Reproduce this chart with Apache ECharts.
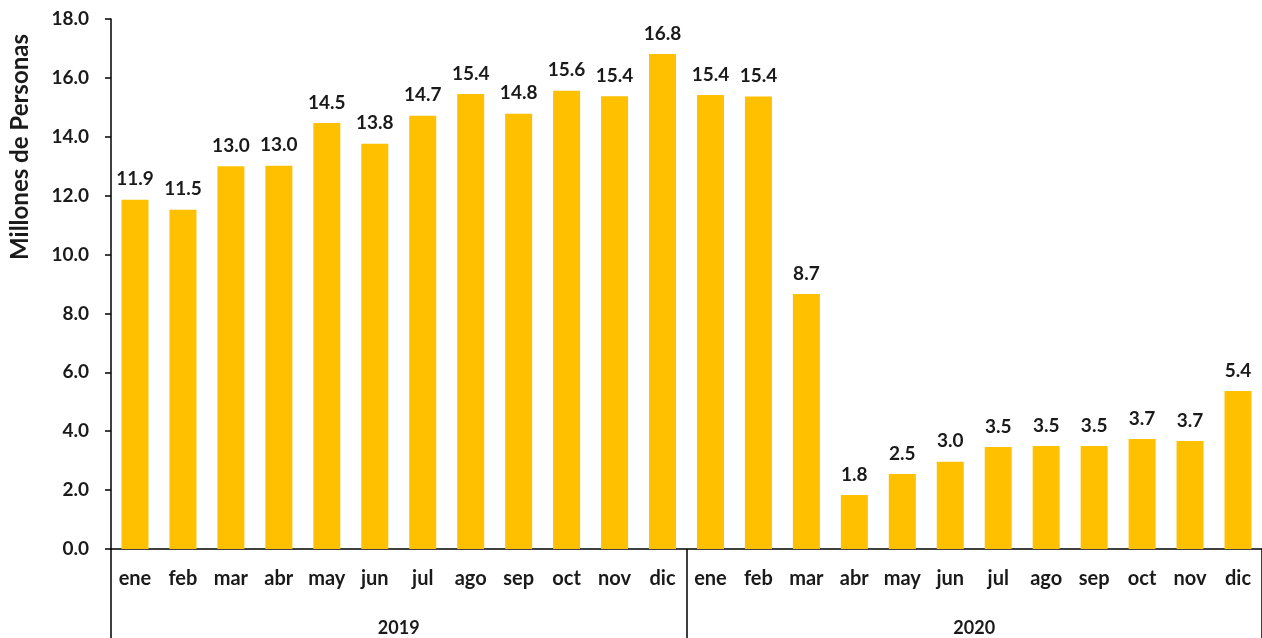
<!DOCTYPE html>
<html>
<head>
<meta charset="utf-8">
<script src="https://cdn.jsdelivr.net/npm/echarts@6/dist/echarts.min.js"></script>
<style>
  html, body { margin: 0; padding: 0; background: #fff; }
  #chart { width: 1262px; height: 638px; }
</style>
</head>
<body>
<div id="chart"></div>
<script>
const months = ["ene", "feb", "mar", "abr", "may", "jun", "jul", "ago", "sep", "oct", "nov", "dic"];
const years = ["2019", "2020"];
const values2019 = [11.86, 11.52, 13.0, 13.02, 14.47, 13.76, 14.71, 15.45, 14.78, 15.56, 15.38, 16.81];
const values2020 = [15.42, 15.37, 8.66, 1.83, 2.55, 2.96, 3.46, 3.5, 3.5, 3.74, 3.67, 5.37];
const yTitle = "Millones de Personas";

const categories = years.flatMap(y => months.map(m => m + " " + y));
const values = values2019.concat(values2020);

const font = "Lato, 'Open Sans', sans-serif";
const chart = echarts.init(document.getElementById("chart"));

chart.setOption({
  animation: false,
  grid: { left: 111, right: 0, top: 19, bottom: 89 },
  graphic: [{
    type: "text",
    x: 20,
    y: 147,
    rotation: Math.PI / 2,
    style: {
      text: yTitle,
      font: "bold 24px " + font,
      fill: "#1a1a1a",
      textAlign: "center",
      textVerticalAlign: "middle"
    }
  }],
  xAxis: [
    {
      type: "category",
      data: categories,
      axisLine: { lineStyle: { color: "#000", width: 1.5 } },
      axisTick: { show: false },
      axisLabel: {
        interval: 0,
        margin: 20,
        fontFamily: font,
        fontWeight: "bold",
        fontSize: 20,
        color: "#1a1a1a",
        formatter: v => v.split(" ")[0]
      }
    },
    {
      type: "category",
      data: years,
      position: "bottom",
      axisLine: { show: false },
      axisTick: { show: true, length: 90, lineStyle: { color: "#000", width: 1.5 } },
      axisLabel: {
        margin: 70,
        fontFamily: font,
        fontWeight: "bold",
        fontSize: 18,
        color: "#1a1a1a"
      }
    }
  ],
  yAxis: {
    type: "value",
    min: 0,
    max: 18,
    interval: 2,
    splitLine: { show: false },
    axisLine: { show: true, lineStyle: { color: "#000", width: 1.5 } },
    axisTick: { show: true, length: 6, lineStyle: { color: "#000", width: 1.5 } },
    axisLabel: {
      margin: 22,
      fontFamily: font,
      fontWeight: "bold",
      fontSize: 19,
      color: "#1a1a1a",
      formatter: v => v.toFixed(1)
    }
  },
  series: [{
    type: "bar",
    data: values,
    barWidth: 27,
    itemStyle: { color: "#FFC000" },
    label: {
      show: true,
      position: "top",
      distance: 11,
      fontFamily: font,
      fontWeight: "bold",
      fontSize: 19,
      color: "#1a1a1a",
      formatter: p => p.value.toFixed(1)
    }
  }]
});
</script>
</body>
</html>
